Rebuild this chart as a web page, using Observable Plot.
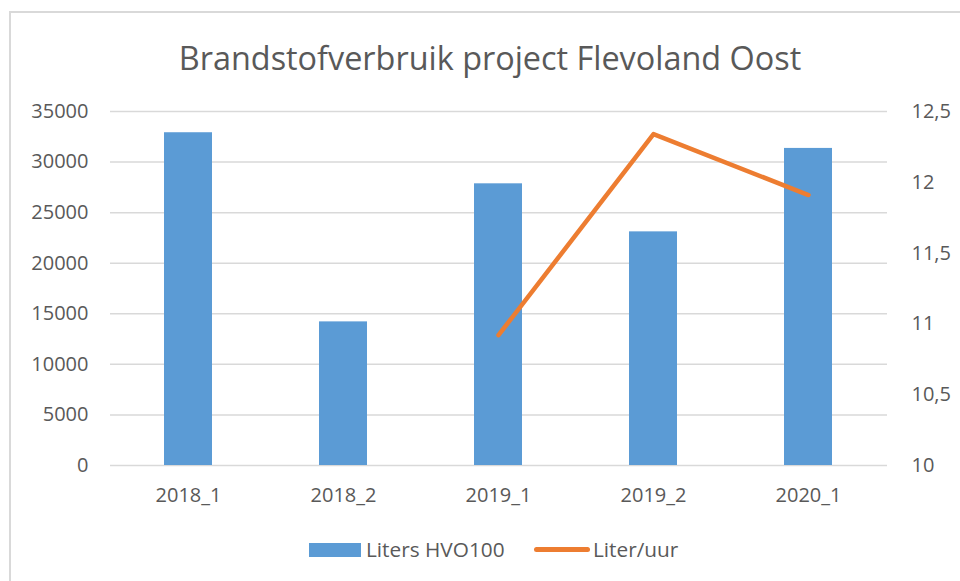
<!DOCTYPE html>
<html>
<head>
<meta charset="utf-8">
<script src="https://cdn.jsdelivr.net/npm/d3@7"></script>
<script src="https://cdn.jsdelivr.net/npm/@observablehq/plot@0.6"></script>
<style>
  html, body { margin: 0; padding: 0; background: #fff; }
  #wrap { position: relative; width: 960px; height: 581px; overflow: hidden; font-family: "Open Sans", sans-serif; color: #595959; }
  #frame { position: absolute; left: 9px; top: 11px; width: 980px; height: 600px; border: 2px solid #d9d9d9; box-sizing: border-box; }
  #title { position: absolute; left: 0; width: 980px; top: 37px; text-align: center; font-size: 32.4px; line-height: 40px; white-space: nowrap; }
  #chart { position: absolute; left: 0; top: 0; }
  #legend { position: absolute; top: 534px; left: 0; width: 960px; height: 30px; font-size: 20.8px; }
  .sw { position: absolute; }
  .lt { position: absolute; top: 0; line-height: 30px; white-space: nowrap; }
</style>
</head>
<body>
<div id="wrap">
  <div id="frame"></div>
  <div id="chart"></div>
  <div id="title"></div>
  <div id="legend"></div>
</div>
<script>
const titleText = "Brandstofverbruik project Flevoland Oost";
const categories = ["2018_1", "2018_2", "2019_1", "2019_2", "2020_1"];
const litersHVO100 = [32900, 14200, 27850, 23100, 31350];
const literPerUur = [null, null, 10.92, 12.34, 11.91];
const leftTicks = [0, 5000, 10000, 15000, 20000, 25000, 30000, 35000];
const rightTicks = [10, 10.5, 11, 11.5, 12, 12.5];
const seriesNames = ["Liters HVO100", "Liter/uur"];
const barColor = "#5B9BD5";
const lineColor = "#ED7D31";

// right axis domain mapped onto the left axis domain
const leftMax = 35000, rightMin = 10, rightMax = 12.5;
const toLeft = v => (v - rightMin) / (rightMax - rightMin) * leftMax;
const fmtComma = v => String(v).replace(".", ",");

const bars = categories.map((c, i) => ({cat: c, value: litersHVO100[i]}));
const linePts = categories.map((c, i) => ({cat: c, value: literPerUur[i]})).filter(d => d.value != null);

document.getElementById("title").textContent = titleText;

const plot = Plot.plot({
  width: 960,
  height: 520,
  marginLeft: 110,
  marginRight: 73,
  marginTop: 111,
  marginBottom: 55,
  style: {fontFamily: "'Open Sans', sans-serif", fontSize: "20px", color: "#595959", background: "transparent", overflow: "visible"},
  x: {domain: categories, paddingInner: 0.69, paddingOuter: 0.345, label: null},
  y: {domain: [0, leftMax], label: null},
  marks: [
    Plot.ruleY(leftTicks, {stroke: "#d9d9d9", strokeWidth: 1.5}),
    Plot.barY(bars, {x: "cat", y: "value", fill: barColor}),
    Plot.line(linePts, {x: "cat", y: d => toLeft(d.value), stroke: lineColor, strokeWidth: 4.5, strokeLinecap: "round", strokeLinejoin: "round"}),
    Plot.axisY({ticks: leftTicks, tickSize: 0, tickPadding: 22, tickFormat: d => String(d), label: null}),
    Plot.axisY({anchor: "right", ticks: rightTicks.map(toLeft), tickSize: 0, tickPadding: 24, textAnchor: "start",
      tickFormat: d => fmtComma(+(rightMin + d / leftMax * (rightMax - rightMin)).toFixed(2)), label: null}),
    Plot.axisX({tickSize: 0, tickPadding: 22, label: null})
  ]
});
document.getElementById("chart").appendChild(plot);

// legend
const lg = document.getElementById("legend");
lg.innerHTML =
  `<div class="sw" style="left:309px;top:9px;width:52px;height:14px;background:${barColor}"></div>` +
  `<div class="lt" style="left:366px">${seriesNames[0]}</div>` +
  `<div class="sw" style="left:534px;top:13px;width:56px;height:4.5px;border-radius:3px;background:${lineColor}"></div>` +
  `<div class="lt" style="left:593px">${seriesNames[1]}</div>`;
</script>
</body>
</html>
